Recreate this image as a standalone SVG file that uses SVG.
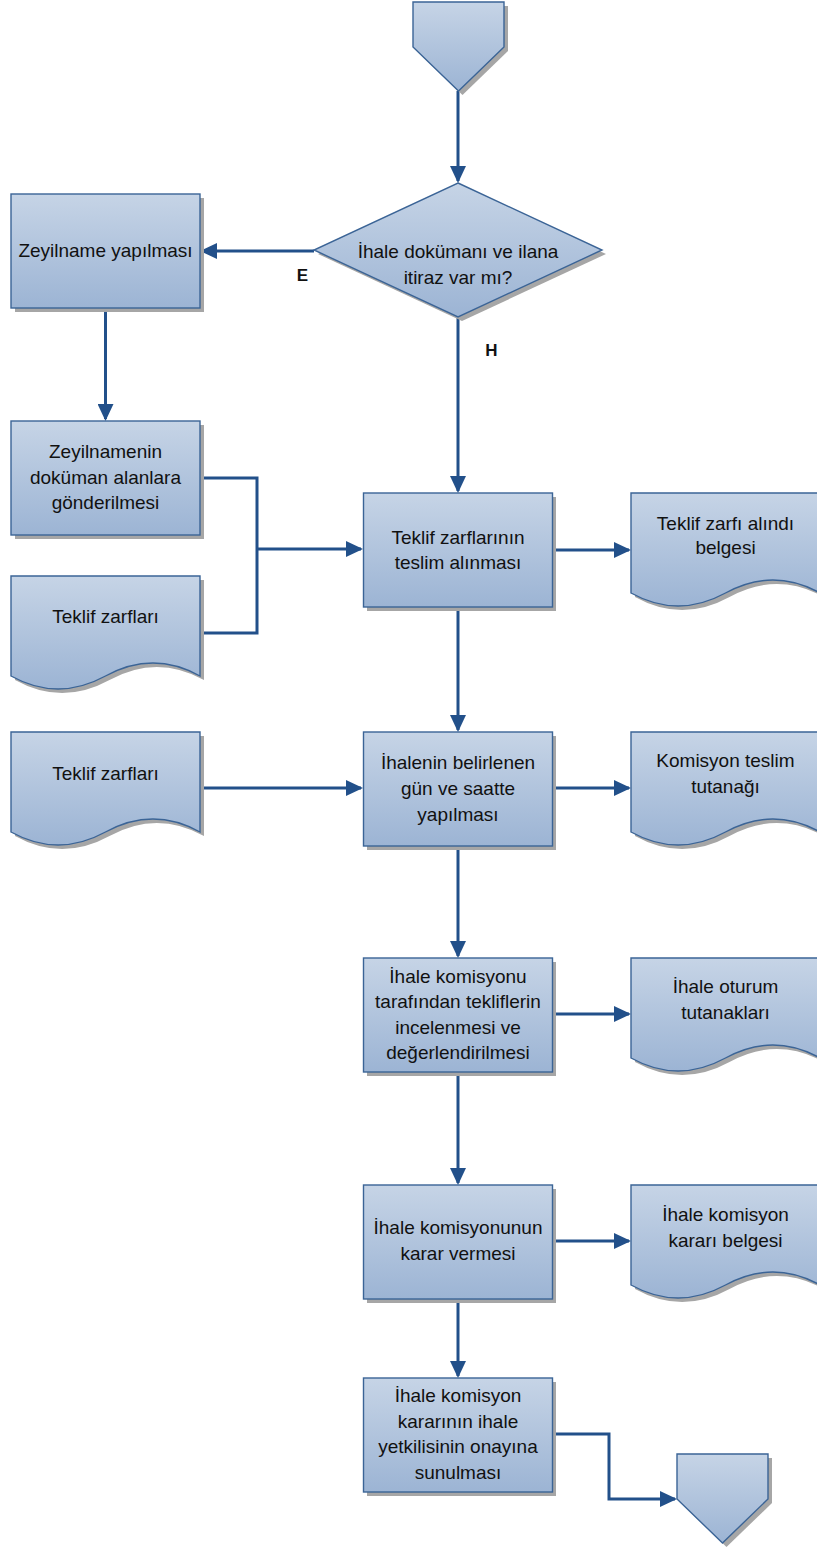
<svg xmlns="http://www.w3.org/2000/svg" xmlns:xlink="http://www.w3.org/1999/xlink" width="817" height="1547" viewBox="0 0 817 1547">
<style>
.sh{fill:#a6a6a6;stroke:none}
.nd{fill:url(#g);stroke:#3b6496;stroke-width:1.4}
.t{font-family:"Liberation Sans",Arial,sans-serif;font-size:19px;fill:#111;text-anchor:middle}
.lb{font-family:"Liberation Sans",Arial,sans-serif;font-size:17px;font-weight:bold;fill:#111;text-anchor:middle}
.c{fill:none;stroke:#22508a;stroke-width:3}
.ca{fill:none;stroke:#22508a;stroke-width:3;marker-end:url(#ar)}
</style>
<defs>
<linearGradient id="g" x1="0" y1="0" x2="0" y2="1">
<stop offset="0" stop-color="#c6d4e6"/>
<stop offset="1" stop-color="#9cb4d4"/>
</linearGradient>
<marker id="ar" markerUnits="userSpaceOnUse" markerWidth="18" markerHeight="16" viewBox="0 0 18 16" refX="15" refY="8" orient="auto">
<path d="M0,0 L17,8 L0,16 Z" fill="#22508a"/>
</marker>
<rect id="box" x="0" y="0" width="189" height="114"/>
<path id="doc" d="M0,0 H189 V100 Q142,74 94.5,100 T0,100 Z"/>
<path id="pent" d="M0,0 H91 V45 L45.5,89 L0,45 Z"/>
<path id="dia" d="M144,0 L288,67 L144,134 L0,67 Z"/>
</defs>

<g id="connectors">
<path class="ca" d="M458,91 V181"/>
<path class="ca" d="M314,251 H202"/>
<path class="ca" d="M458,317 V491"/>
<path class="ca" d="M105.5,308 V419"/>
<path class="c" d="M200,478 H257 V633 H200"/>
<path class="ca" d="M257,549 H361"/>
<path class="ca" d="M553,550 H629"/>
<path class="ca" d="M458,607 V730"/>
<path class="ca" d="M200,788 H361"/>
<path class="ca" d="M553,788 H629"/>
<path class="ca" d="M458,845 V956"/>
<path class="ca" d="M553,1014 H629"/>
<path class="ca" d="M458,1071 V1183"/>
<path class="ca" d="M553,1241 H629"/>
<path class="ca" d="M458,1298 V1376"/>
<path class="ca" d="M553,1434 H609 V1499 H675"/>
<text class="lb" x="302.5" y="281">E</text>
<text class="lb" x="491.5" y="356">H</text>
</g>

<g id="start">
<use xlink:href="#pent" class="sh" transform="translate(417,6)"/>
<use xlink:href="#pent" class="nd" transform="translate(413,2)"/>
</g>

<g id="decision">
<use xlink:href="#dia" class="sh" transform="translate(318,187)"/>
<use xlink:href="#dia" class="nd" transform="translate(314,183)"/>
<text class="t" x="458" y="258">İhale dokümanı ve ilana</text>
<text class="t" x="458" y="284">itiraz var mı?</text>
</g>

<g id="zeyilname">
<use xlink:href="#box" class="sh" transform="translate(15,198)"/>
<use xlink:href="#box" class="nd" transform="translate(11,194)"/>
<text class="t" x="105.5" y="257">Zeyilname yapılması</text>
</g>

<g id="zeyilname-gonderim">
<use xlink:href="#box" class="sh" transform="translate(15,425)"/>
<use xlink:href="#box" class="nd" transform="translate(11,421)"/>
<text class="t" x="105.5" y="458">Zeyilnamenin</text>
<text class="t" x="105.5" y="484">doküman alanlara</text>
<text class="t" x="105.5" y="509">gönderilmesi</text>
</g>

<g id="teklif-zarflari-1">
<use xlink:href="#doc" class="sh" transform="translate(15,580)"/>
<use xlink:href="#doc" class="nd" transform="translate(11,576)"/>
<text class="t" x="105.5" y="623">Teklif zarfları</text>
</g>

<g id="teklif-zarflari-2">
<use xlink:href="#doc" class="sh" transform="translate(15,736)"/>
<use xlink:href="#doc" class="nd" transform="translate(11,732)"/>
<text class="t" x="105.5" y="780">Teklif zarfları</text>
</g>

<g id="teslim">
<use xlink:href="#box" class="sh" transform="translate(367,497)"/>
<use xlink:href="#box" class="nd" transform="translate(363.5,493)"/>
<text class="t" x="458" y="544">Teklif zarflarının</text>
<text class="t" x="458" y="569">teslim alınması</text>
</g>

<g id="alindi-belgesi">
<use xlink:href="#doc" class="sh" transform="translate(635,497)"/>
<use xlink:href="#doc" class="nd" transform="translate(631,493)"/>
<text class="t" x="725.5" y="530">Teklif zarfı alındı</text>
<text class="t" x="725.5" y="554">belgesi</text>
</g>

<g id="ihale-yapilmasi">
<use xlink:href="#box" class="sh" transform="translate(367,736)"/>
<use xlink:href="#box" class="nd" transform="translate(363.5,732)"/>
<text class="t" x="458" y="769">İhalenin belirlenen</text>
<text class="t" x="458" y="795">gün ve saatte</text>
<text class="t" x="458" y="821">yapılması</text>
</g>

<g id="teslim-tutanagi">
<use xlink:href="#doc" class="sh" transform="translate(635,736)"/>
<use xlink:href="#doc" class="nd" transform="translate(631,732)"/>
<text class="t" x="725.5" y="767">Komisyon teslim</text>
<text class="t" x="725.5" y="793">tutanağı</text>
</g>

<g id="degerlendirme">
<use xlink:href="#box" class="sh" transform="translate(367,962)"/>
<use xlink:href="#box" class="nd" transform="translate(363.5,958)"/>
<text class="t" x="458" y="983">İhale komisyonu</text>
<text class="t" x="458" y="1008">tarafından tekliflerin</text>
<text class="t" x="458" y="1034">incelenmesi ve</text>
<text class="t" x="458" y="1059">değerlendirilmesi</text>
</g>

<g id="oturum-tutanaklari">
<use xlink:href="#doc" class="sh" transform="translate(635,962)"/>
<use xlink:href="#doc" class="nd" transform="translate(631,958)"/>
<text class="t" x="725.5" y="993">İhale oturum</text>
<text class="t" x="725.5" y="1019">tutanakları</text>
</g>

<g id="karar">
<use xlink:href="#box" class="sh" transform="translate(367,1189)"/>
<use xlink:href="#box" class="nd" transform="translate(363.5,1185)"/>
<text class="t" x="458" y="1234">İhale komisyonunun</text>
<text class="t" x="458" y="1260">karar vermesi</text>
</g>

<g id="karar-belgesi">
<use xlink:href="#doc" class="sh" transform="translate(635,1189)"/>
<use xlink:href="#doc" class="nd" transform="translate(631,1185)"/>
<text class="t" x="725.5" y="1221">İhale komisyon</text>
<text class="t" x="725.5" y="1247">kararı belgesi</text>
</g>

<g id="onay">
<use xlink:href="#box" class="sh" transform="translate(367,1382)"/>
<use xlink:href="#box" class="nd" transform="translate(363.5,1378)"/>
<text class="t" x="458" y="1402">İhale komisyon</text>
<text class="t" x="458" y="1428">kararının ihale</text>
<text class="t" x="458" y="1453">yetkilisinin onayına</text>
<text class="t" x="458" y="1479">sunulması</text>
</g>

<g id="end">
<use xlink:href="#pent" class="sh" transform="translate(681,1458)"/>
<use xlink:href="#pent" class="nd" transform="translate(677,1454)"/>
</g>
</svg>
